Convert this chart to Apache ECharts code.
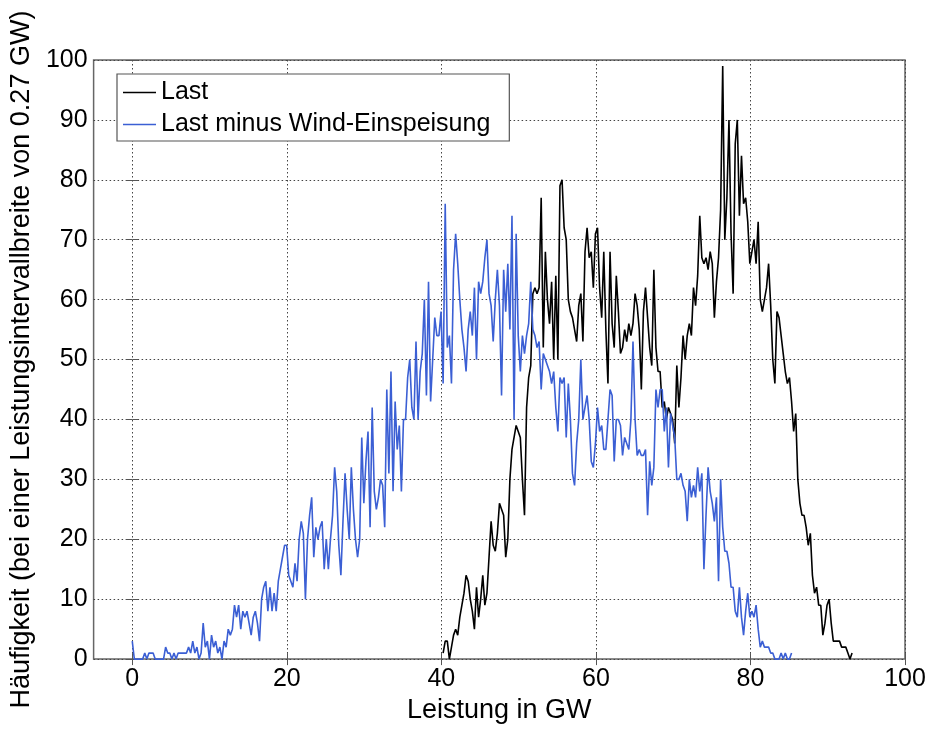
<!DOCTYPE html>
<html>
<head>
<meta charset="utf-8">
<script src="https://cdn.jsdelivr.net/npm/echarts@6/dist/echarts.min.js"></script>
<style>
html,body{margin:0;padding:0;background:#fff;}
#chart{width:932px;height:729px;}
</style>
</head>
<body>
<div id="chart"></div>
<script>
// Bin width of the histogram (GW)
const binWidth = 0.27;
// First bin index of each series (x = (startBin + i) * binWidth)
const lastStartBin = 149;
const lastMinusWindStartBin = 0;

const seriesNames = ['Last', 'Last minus Wind-Einspeisung'];

// "Last" frequencies per 0.27 GW bin
const lastValues = [
  1,
  3,3,0,2,4,5,4,7,9,11,
  14,13,10,8,5,12,7,10,14,9,
  11,17,23,19,18,21,26,25,24,17,
  20,30,35,37,39,38,37,30,24,42,
  47,49,61,62,61,62,77,52,68,60,
  56,63,50,64,50,79,80,72,70,60,
  58,57,55,53,59,61,53,68,72,67,
  68,62,71,72,62,57,68,55,46,68,
  56,52,64,58,51,52,55,53,56,54,
  56,61,59,55,45,58,62,57,52,49,
  65,52,48,48,42,43,40,42,41,40,
  36,49,42,47,54,50,54,56,54,62,
  59,64,74,67,66,67,65,68,66,57,
  63,67,75,99,70,77,90,71,61,86,
  90,74,84,76,77,73,66,68,70,66,
  73,60,58,60,62,66,59,50,46,58,
  57,54,51,48,46,47,43,38,41,30,
  26,24,24,22,19,21,14,11,12,9,
  9,4,6,9,10,6,3,3,3,3,
  2,2,2,1,0,1
];

// "Last minus Wind-Einspeisung" frequencies per 0.27 GW bin
const lastMinusWindValues = [
  3,0,0,0,0,0,1,0,1,1,
  1,0,0,0,0,0,2,1,1,0,
  1,0,1,1,1,1,1,2,1,3,
  1,2,0,1,6,2,3,0,4,2,
  3,1,2,0,3,2,5,4,5,9,
  7,9,5,8,7,8,6,4,7,8,
  6,3,10,12,13,8,12,8,11,8,
  13,15,17,19,19,14,13,12,16,13,
  20,23,21,10,20,24,27,17,22,20,
  22,23,15,20,15,20,24,32,28,19,
  14,23,31,25,20,32,25,20,17,20,
  37,26,33,38,22,42,28,25,27,30,
  29,22,45,31,48,28,43,35,39,28,
  40,40,47,50,42,40,53,40,48,51,
  60,44,63,43,50,57,54,54,58,46,
  76,52,54,46,65,71,66,60,55,52,
  48,55,58,54,62,50,63,61,63,67,
  70,61,59,53,60,65,59,44,65,58,
  66,55,74,40,71,54,48,54,51,54,
  56,63,55,54,52,53,45,51,50,49,
  48,46,48,42,38,47,46,47,37,46,
  40,31,29,36,40,50,40,42,44,40,
  33,32,36,42,38,39,35,35,40,45,
  44,33,40,40,39,34,37,36,35,40,
  53,40,34,35,34,34,35,24,33,29,
  32,45,42,45,45,38,42,32,41,39,
  37,30,30,31,29,28,23,30,27,29,
  27,32,28,31,15,24,32,28,26,23,
  27,13,30,22,18,18,16,12,12,8,
  7,12,7,4,8,11,7,8,7,9,
  5,2,3,2,2,2,1,1,0,0,
  0,1,0,1,0,0,1
];

const xTickValues = [0, 20, 40, 60, 80, 100];
const xMin = -5, xMax = 100;
const yMin = 0, yMax = 100, yStep = 10;

const xTitle = 'Leistung in GW';
const yTitle = 'Häufigkeit (bei einer Leistungsintervallbreite von 0.27 GW)';

function toPairs(startBin, vals) {
  return vals.map((v, i) => [+((startBin + i) * binWidth).toFixed(4), v]);
}

const FONT = "'Liberation Sans', Arial, sans-serif";
const gridLine = { show: true, lineStyle: { color: '#444', width: 1, type: [1.5, 2.5] } };

const chart = echarts.init(document.getElementById('chart'), null, { renderer: 'canvas' });

chart.setOption({
  animation: false,
  backgroundColor: '#fff',
  grid: { left: 91, right: 27, top: 60, bottom: 57, show: true, borderColor: '#666', borderWidth: 1.5, containLabel: false },
  legend: {
    orient: 'vertical',
    left: 117, top: 74,
    backgroundColor: '#fff',
    borderColor: '#555', borderWidth: 1.2,
    padding: [6, 19, 4, 6],
    icon: 'rect',
    itemWidth: 33, itemHeight: 1.5, itemGap: 7,
    textStyle: { fontFamily: FONT, fontSize: 25, color: '#000' },
    data: seriesNames
  },
  xAxis: [{
    type: 'value', min: xMin, max: xMax,
    name: xTitle, nameLocation: 'middle', nameGap: 35,
    nameTextStyle: { fontFamily: FONT, fontSize: 27, color: '#000' },
    axisLine: { show: false },
    axisTick: { show: true, inside: true, length: 6, customValues: xTickValues, lineStyle: { color: '#555' } },
    axisLabel: { show: true, customValues: xTickValues, fontFamily: FONT, fontSize: 25, color: '#000', margin: 8 },
    splitLine: gridLine
  }, {
    type: 'value', min: xMin, max: xMax, position: 'top',
    axisLine: { show: false },
    axisTick: { show: true, inside: true, length: 6, customValues: xTickValues, lineStyle: { color: '#555' } },
    axisLabel: { show: false, customValues: xTickValues },
    splitLine: { show: false }
  }],
  yAxis: [{
    type: 'value', min: yMin, max: yMax, interval: yStep,
    name: yTitle, nameLocation: 'middle', nameGap: 54, nameRotate: 90,
    nameTextStyle: { fontFamily: FONT, fontSize: 27, color: '#000' },
    axisLine: { show: false },
    axisTick: { show: true, inside: true, length: 6, lineStyle: { color: '#555' } },
    axisLabel: { fontFamily: FONT, fontSize: 25, color: '#000', margin: 6 },
    splitLine: gridLine
  }, {
    type: 'value', min: yMin, max: yMax, interval: yStep, position: 'right',
    axisLine: { show: false },
    axisTick: { show: true, inside: true, length: 6, lineStyle: { color: '#555' } },
    axisLabel: { show: false },
    splitLine: { show: false }
  }],
  series: [{
    name: seriesNames[0], type: 'line', symbol: 'none',
    xAxisIndex: 0, yAxisIndex: 0,
    lineStyle: { color: '#000', width: 1.6 },
    itemStyle: { color: '#000' },
    data: toPairs(lastStartBin, lastValues)
  }, {
    name: seriesNames[1], type: 'line', symbol: 'none',
    xAxisIndex: 0, yAxisIndex: 0,
    lineStyle: { color: '#3b5fd4', width: 1.6 },
    itemStyle: { color: '#3b5fd4' },
    data: toPairs(lastMinusWindStartBin, lastMinusWindValues)
  }]
});
</script>
</body>
</html>
